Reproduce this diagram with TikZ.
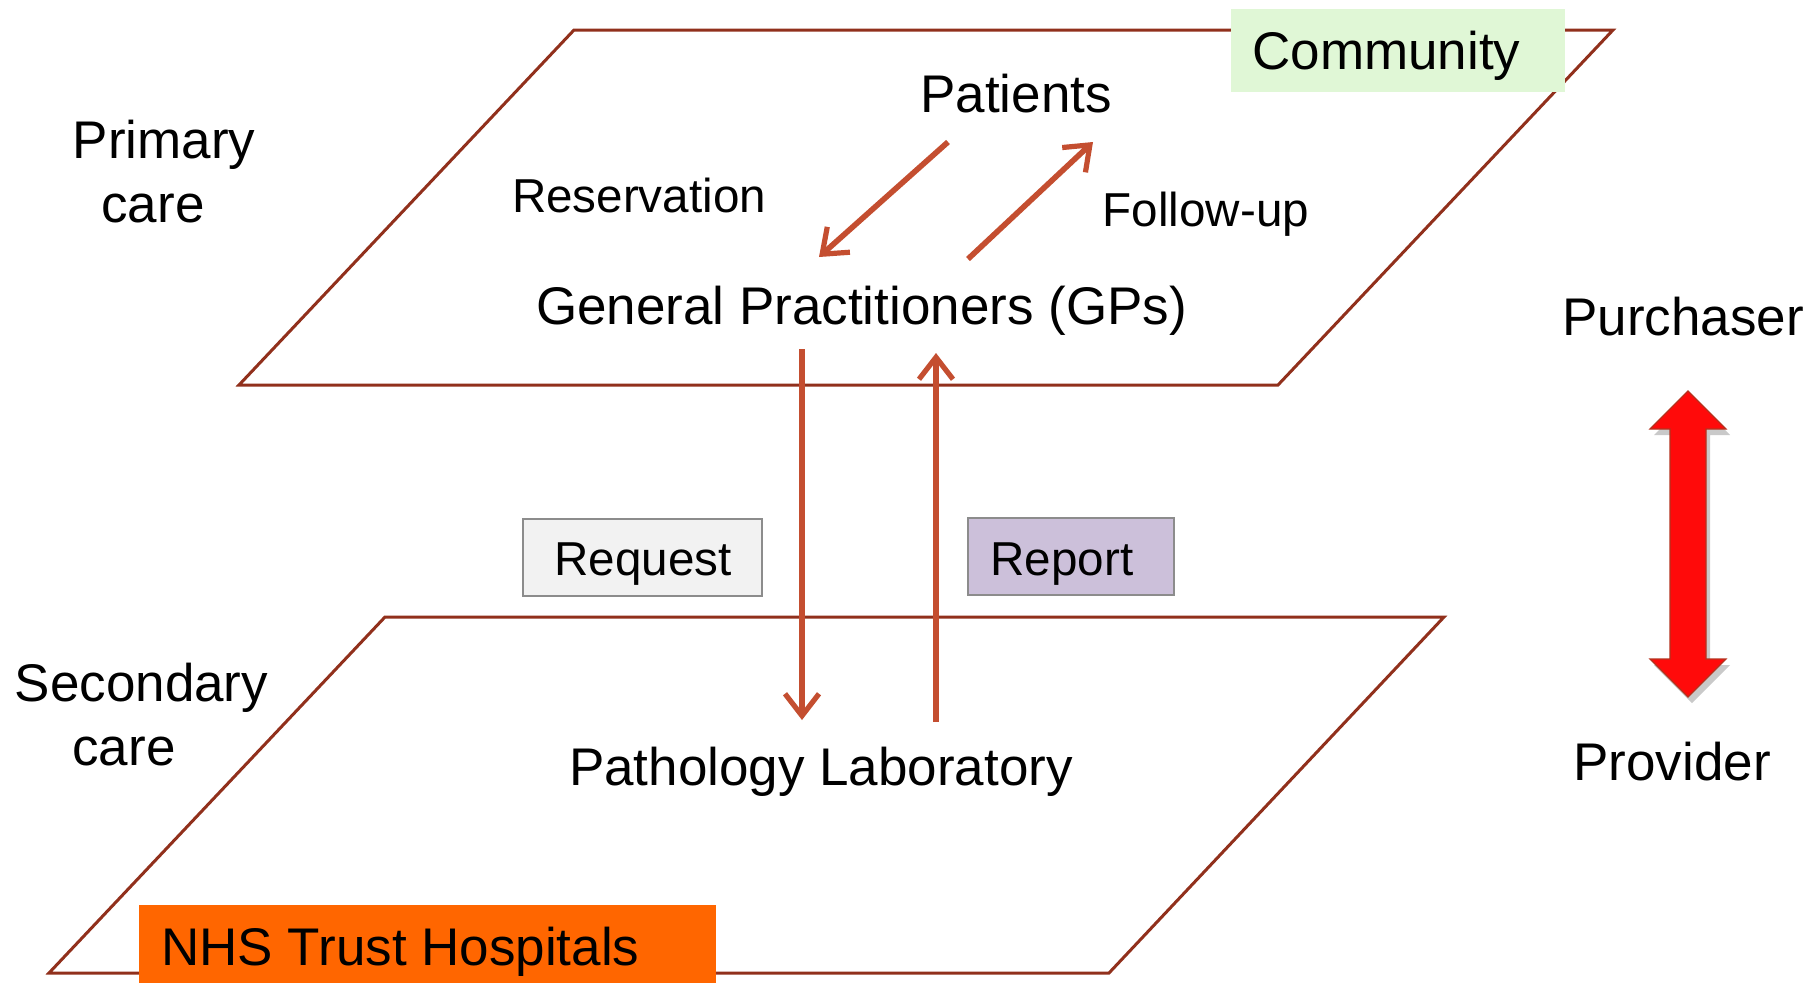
\documentclass[tikz,border=0pt]{standalone}
\usepackage{fontspec}
\setmainfont{Liberation Sans}
\usetikzlibrary{arrows.meta}
\definecolor{planecol}{RGB}{145,48,28}
\definecolor{arrcol}{RGB}{196,78,48}
\definecolor{commfill}{RGB}{224,247,214}
\definecolor{reqfill}{RGB}{242,242,242}
\definecolor{repfill}{RGB}{204,192,218}
\definecolor{nhsfill}{RGB}{255,102,0}
\definecolor{boxline}{RGB}{140,140,140}
\definecolor{redarrow}{RGB}{255,10,10}
\definecolor{rededge}{RGB}{180,50,30}
\begin{document}
\begin{tikzpicture}[x=0.5pt,y=-0.5pt,
  big/.style={font=\fontsize{26.5}{30}\selectfont, inner sep=0pt, anchor=base},
  small/.style={font=\fontsize{23.8}{28}\selectfont, inner sep=0pt, anchor=base},
  plane/.style={draw=planecol, line width=1.5pt, line join=miter},
  flow/.style={draw=arrcol, line width=2.8pt, -{Straight Barb[length=11pt,width=17pt,line width=2.6pt]}},
  tagbox/.style={draw=boxline, line width=1pt, inner sep=0pt},
  fillbox/.style={inner sep=0pt, draw=none}]
\useasboundingbox (0,0) rectangle (1812,982);
\fill[white] (0,0) rectangle (1812,982);

% planes
\draw[plane] (574,30) -- (1613,30) -- (1278,385) -- (239,385) -- cycle;
\draw[plane] (385,617) -- (1444,617) -- (1109,973) -- (49,973) -- cycle;

% coloured label boxes
\node[fillbox, fill=commfill, minimum width=167pt, minimum height=41.5pt] (commbox) at (1398,50.5) {};
\node[big, anchor=base west] (community) at (1252,69) {Community};
\node[fillbox, fill=nhsfill, minimum width=288.5pt, minimum height=42.5pt] (nhsbox) at (427.5,947.5) {};
\node[big, anchor=base west] (nhs) at (161,965) {NHS Trust Hospitals};

% texts
\node[big] (primary) at (164,158) {Primary};
\node[big] (primcare) at (153,222) {care};
\node[big] (secondary) at (141.5,701) {Secondary};
\node[big] (seccare) at (124,765) {care};
\node[big] (patients) at (1016,112) {Patients};
\node[small] (reservation) at (639,212) {Reservation};
\node[small] (followup) at (1206,226) {Follow-up};
\node[big] (gps) at (861.5,324) {General Practitioners (GPs)};
\node[big] (patholab) at (821,785) {Pathology Laboratory};
\node[big] (purchaser) at (1683,335) {Purchaser};
\node[big] (provider) at (1672,780) {Provider};

\node[tagbox, fill=reqfill, minimum width=119.5pt, minimum height=38.5pt] (reqbox) at (642.5,557.5) {};
\node[small] (request) at (643,575) {Request};
\node[tagbox, fill=repfill, minimum width=103pt, minimum height=38.5pt] (repbox) at (1071,556.5) {};
\node[small, anchor=base west] (report) at (990,575) {Report};

% connectors
\coordinate (patout) at (948,142);
\coordinate (gpin) at (819,257);
\coordinate (gpout) at (968,259);
\coordinate (patin) at (1093,142);
\draw[flow] (patout) -- (gpin);
\draw[flow] (gpout) -- (patin);

\coordinate (reqstart) at (802,349);
\coordinate (reqend) at (802,720);
\coordinate (repstart) at (936,722);
\coordinate (repend) at (936,353);
\draw[flow] (reqstart) -- (reqend);
\draw[flow] (repstart) -- (repend);

% purchaser-provider double arrow
\fill[black!35, opacity=0.6, xshift=2pt, yshift=-3pt]
  (1688,391) -- (1726,429) -- (1706,429) -- (1706,659) -- (1726,659) -- (1688,697)
  -- (1650,659) -- (1670,659) -- (1670,429) -- (1650,429) -- cycle;
\filldraw[fill=redarrow, draw=rededge, line width=0.6pt, line join=miter] (1688,391) -- (1726,429) -- (1706,429) -- (1706,659) -- (1726,659) -- (1688,697)
  -- (1650,659) -- (1670,659) -- (1670,429) -- (1650,429) -- cycle;
\end{tikzpicture}
\end{document}
